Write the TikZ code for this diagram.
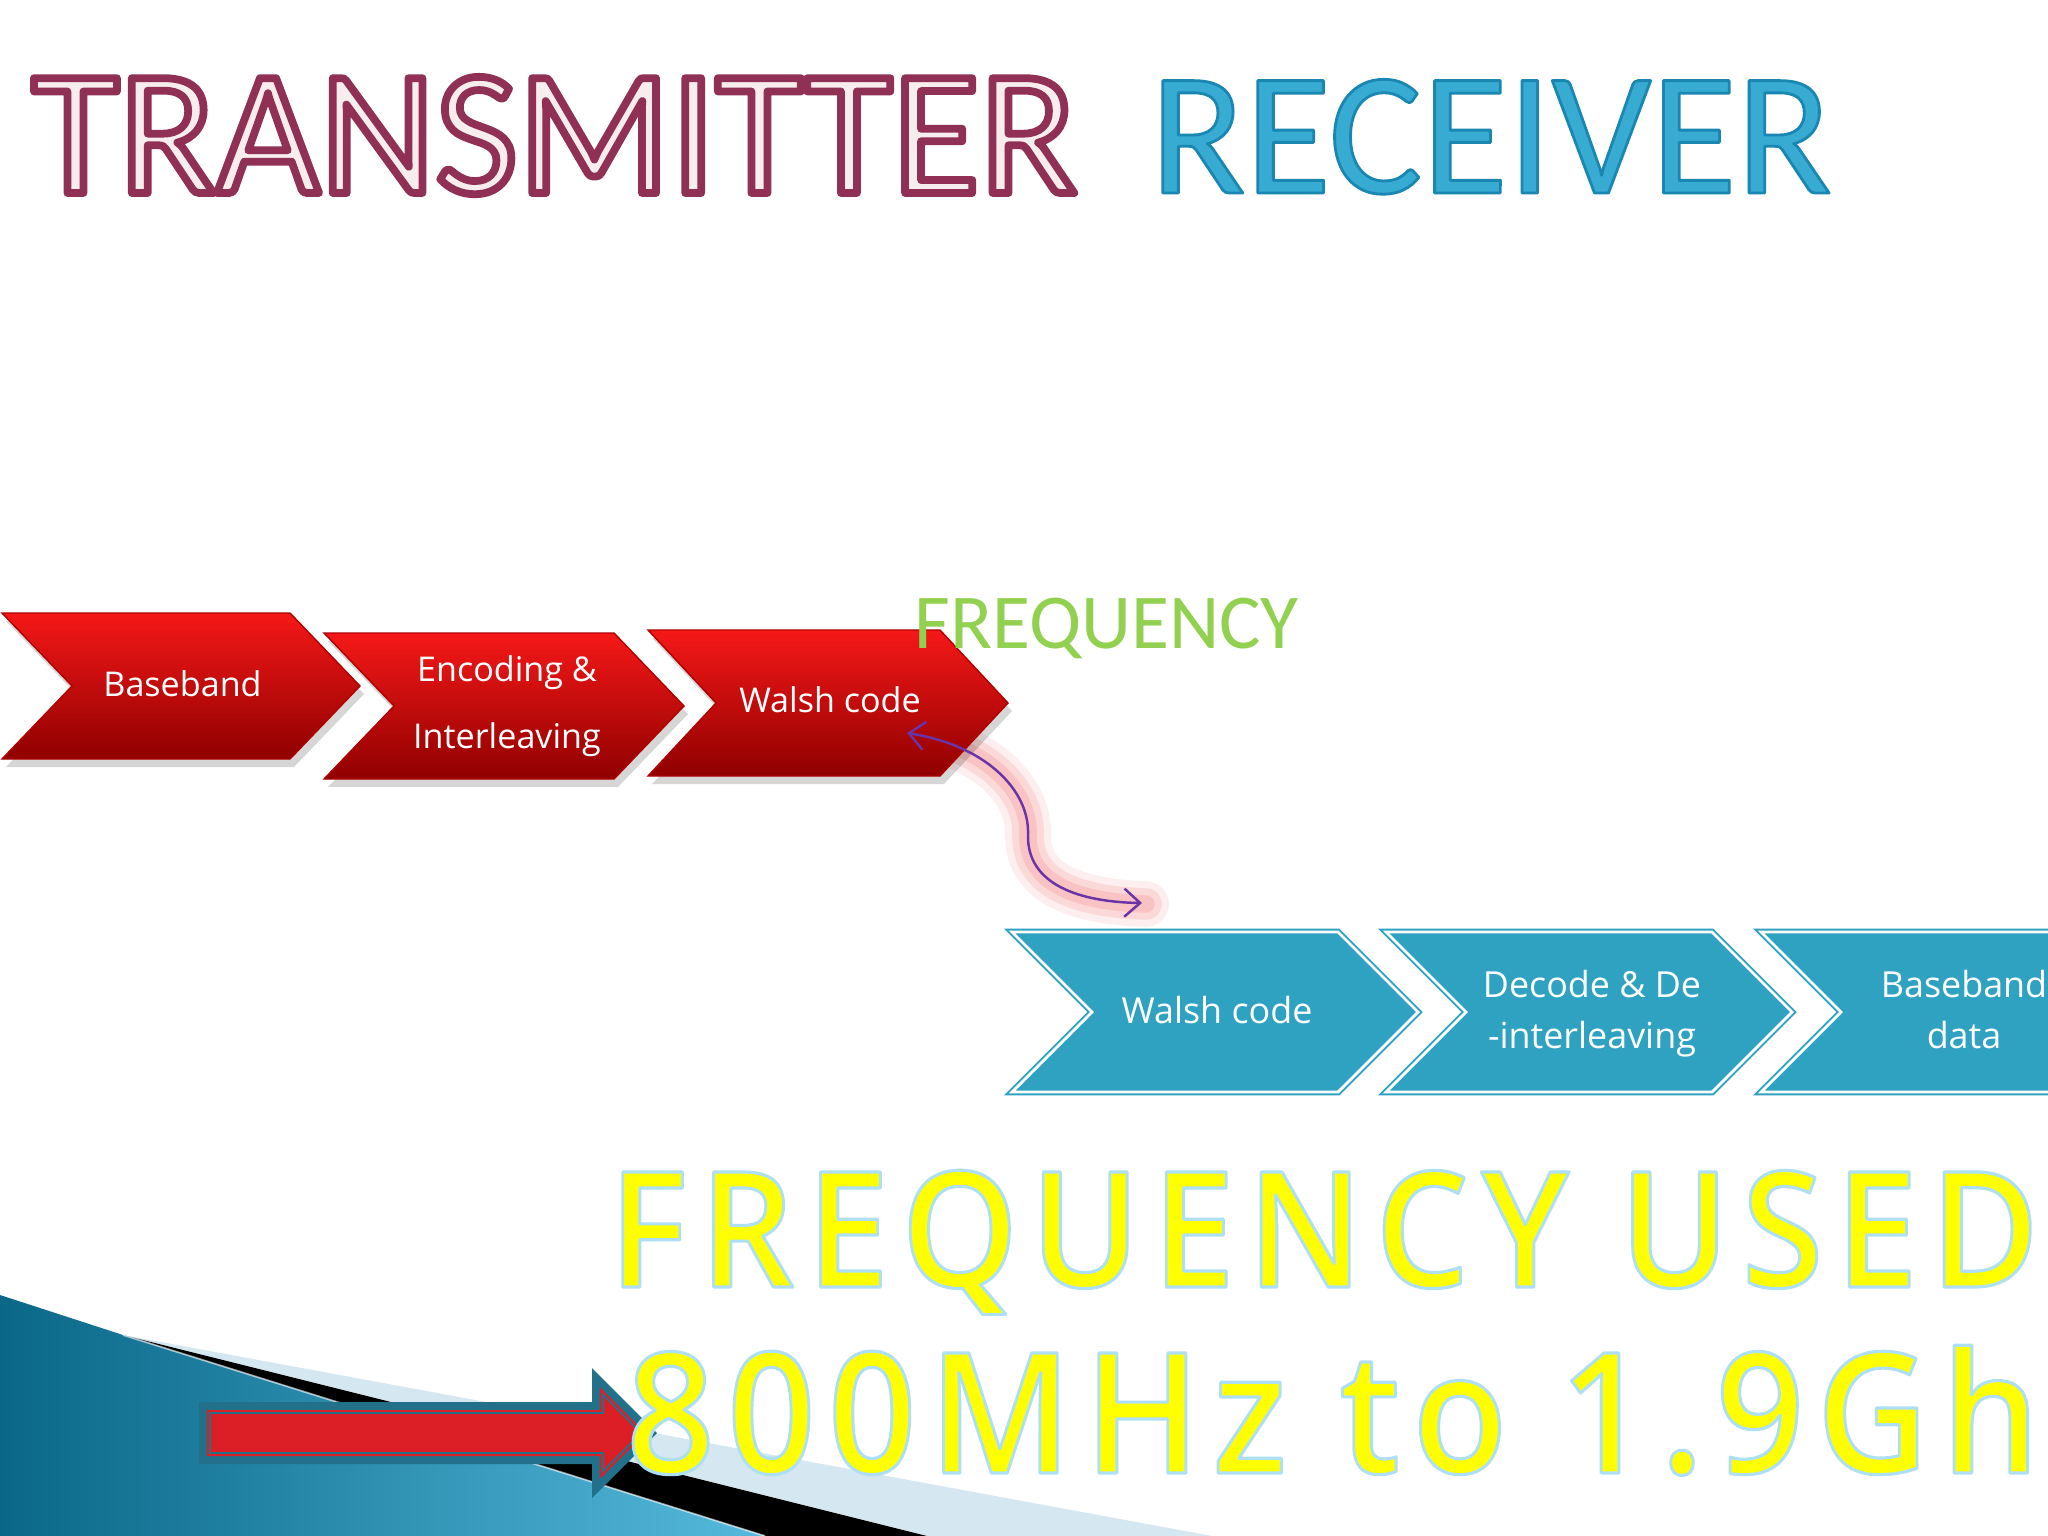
\documentclass[tikz,border=0pt]{standalone}
\usepackage{fontspec}
\usepackage{graphicx}
\setmainfont{Open Sans}
\newfontfamily\cfont{Carlito}
\IfFontExistsTF{Open Sans SemiBold}{\def\ysfam{Open Sans SemiBold}}{%
  \IfFontExistsTF{Open Sans Semibold}{\def\ysfam{Open Sans Semibold}}{\def\ysfam{Open Sans}}}
\newfontfamily\ylsA{\ysfam}[LetterSpace=8.2]
\newfontfamily\ylsB{\ysfam}[LetterSpace=8.1]
\usetikzlibrary{arrows.meta}
% outlined text: #1 stroke colour (rgb 0-1), #2 stroke width (bp), #3 text
\newcommand\outlinedtext[3]{\special{pdf:literal direct #1 RG #2 w 1 j 2 Tr}#3\special{pdf:literal direct 0 Tr}}
\definecolor{pinkT}{HTML}{F7ECEE}
\definecolor{recFill}{HTML}{38ABD3}
\definecolor{freqG}{HTML}{92D050}
\definecolor{redA}{HTML}{F51818}
\definecolor{redB}{HTML}{DC0A0A}
\definecolor{redC}{HTML}{900000}
\definecolor{redE}{HTML}{B00000}
\definecolor{chevB}{HTML}{2FA1C1}
\definecolor{purpC}{HTML}{6A33A8}
\definecolor{glowP}{HTML}{F79A9A}
\definecolor{yelT}{HTML}{FFFF00}
\definecolor{swDark}{HTML}{0A6788}
\definecolor{swLight}{HTML}{55BADD}
\definecolor{swPale}{HTML}{D5E7F1}
\definecolor{arTeal}{HTML}{22708A}
\definecolor{arRed}{HTML}{DC1F27}
\begin{document}
\begin{tikzpicture}[x=0.01cm,y=-0.01cm,
  chevp/.style n args={5}{insert path={(#1,#2) -- ({#1+#3},#2) -- ({#1+#3+#5},{#2+#4/2}) -- ({#1+#3},{#2+#4}) -- (#1,{#2+#4}) -- ({#1+#5},{#2+#4/2}) -- cycle}},
  redchev/.style={top color=redA, middle color=redB, bottom color=redC, draw=redE, line width=0.4pt},
  chevshadow/.style={fill=black, opacity=0.16},
  bluechev/.style={fill=chevB, draw=chevB, line width=0.55pt, double=white, double distance=0.8pt},
  redtxt/.style={anchor=base, text=white, inner sep=0pt, font=\fontsize{9.7pt}{12pt}\selectfont},
  bluetxt/.style={anchor=base, text=white, inner sep=0pt, font=\fontsize{10.2pt}{12pt}\selectfont},
  ttl/.style={anchor=base, inner sep=0pt, text=pinkT, font=\cfont\fontsize{50.9pt}{55pt}\selectfont},
  rcv/.style={anchor=base, inner sep=0pt, text=recFill, font=\cfont\fontsize{49.8pt}{55pt}\selectfont},
  frq/.style={anchor=base, inner sep=0pt, text=freqG, font=\cfont\fontsize{22.1pt}{25pt}\selectfont},
  yta/.style={anchor=base, inner sep=0pt, text=yelT, font=\ylsA\fontsize{45.8pt}{50pt}\selectfont},
  ytb/.style={anchor=base, inner sep=0pt, text=yelT, font=\ylsB\fontsize{47.8pt}{50pt}\selectfont},
  barb/.tip={Straight Barb[length=4.5pt,width=8pt,line width=0.7pt]},
  glowline/.style={glowP, line cap=round}
]
\useasboundingbox (0,0) rectangle (2048,1536);
\clip (0,0) rectangle (2048,1536);
\fill[white] (0,0) rectangle (2048,1536);

% ---- bottom-left swoosh ----
\fill[swPale] (123,1335) -- (1212,1536) -- (927,1536) -- cycle;
\fill[black] (123,1335) -- (927,1536) -- (765,1536) -- cycle;
\shade[left color=swDark, right color=swLight] (0,1295) -- (123,1335) -- (765,1536) -- (0,1536) -- cycle;
\draw[white, opacity=0.6, line width=0.5pt] (123,1335) -- (765,1536);

% ---- big red arrow ----
\fill[arTeal] (199,1402) -- (592,1402) -- (592,1368) -- (657,1433) -- (592,1498) -- (592,1464) -- (199,1464) -- cycle;
\fill[arRed] (207,1410) -- (600,1410) -- (600,1387.3) -- (645.7,1433) -- (600,1478.7) -- (600,1456) -- (207,1456) -- cycle;
\draw[arTeal, line width=0.5pt] (210,1413) -- (603,1413) -- (603,1394.6) -- (641.4,1433) -- (603,1471.4) -- (603,1453) -- (210,1453) -- cycle;

% ---- titles ----
\node[ttl] (transmitter) at (554.5,193) {\outlinedtext{0.56 0.19 0.33}{2.2}{TRANSMITTER}};
\node[rcv] (receiver) at (1491,193) {\outlinedtext{0.10 0.53 0.70}{0.8}{RECEIVER}};

% ---- glow behind curved connector ----
\draw[glowline, opacity=0.15, line width=13pt] (907,733) .. controls (985,745) and (1030,790) .. (1028,835) .. controls (1027,885) and (1080,902) .. (1146,904);
\draw[glowline, opacity=0.25, line width=9pt] (907,733) .. controls (985,745) and (1030,790) .. (1028,835) .. controls (1027,885) and (1080,902) .. (1146,904);
\draw[glowline, opacity=0.35, line width=5pt] (907,733) .. controls (985,745) and (1030,790) .. (1028,835) .. controls (1027,885) and (1080,902) .. (1146,904);

% ---- red chevrons (transmitter chain) ----
\fill[chevshadow, chevp={6}{621}{288}{146}{70}];
\fill[chevshadow, chevp={328}{641}{290}{146}{70}];
\fill[chevshadow, chevp={652}{638}{292}{146}{68}];
\shade[redchev, chevp={2}{613}{288}{146}{70}];
\shade[redchev, chevp={324}{633}{290}{146}{70}];
\shade[redchev, chevp={648}{630}{292}{146}{68}];
\node[redtxt] (tbase) at (182.5,696) {Baseband};
\node[redtxt] (tenc1) at (507,681) {Encoding \&};
\node[redtxt] (tenc2) at (507,748) {Interleaving};
\node[redtxt] (twalsh) at (830,712) {Walsh code};

\node[frq] (freq) at (1106.5,648) {FREQUENCY};

% ---- blue chevrons (receiver chain) ----
\path[bluechev, chevp={1012}{932}{326}{160}{80}];
\path[bluechev, chevp={1386}{932}{326}{160}{80}];
\path[bluechev, chevp={1761}{932}{326}{160}{80}];
\node[bluetxt] (rwalsh) at (1217,1023) {Walsh code};
\node[bluetxt] (rdec1) at (1592,997) {Decode \& De};
\node[bluetxt] (rdec2) at (1592,1048) {-interleaving};
\node[bluetxt] (rbase1) at (1964,997) {Baseband};
\node[bluetxt] (rbase2) at (1964,1048) {data};

% ---- curved double arrow ----
\coordinate (cs) at (907,733);
\coordinate (ce) at (1142,903);
\draw[purpC, line width=0.7pt, barb-barb] (cs) .. controls (985,745) and (1030,790) .. (1028,835) .. controls (1027,885) and (1080,902) .. (ce);

% ---- yellow frequency text ----
\node[yta] (fused) at (1324,1287) {\scalebox{0.92}[1]{\outlinedtext{0.68 0.88 0.96}{0.9}{FREQUENCY USED}}};
\node[ytb] (frange) at (1333,1473) {\scalebox{0.92}[1]{\outlinedtext{0.68 0.88 0.96}{0.9}{800MHz to 1.9Gh}}};
\end{tikzpicture}
\end{document}
